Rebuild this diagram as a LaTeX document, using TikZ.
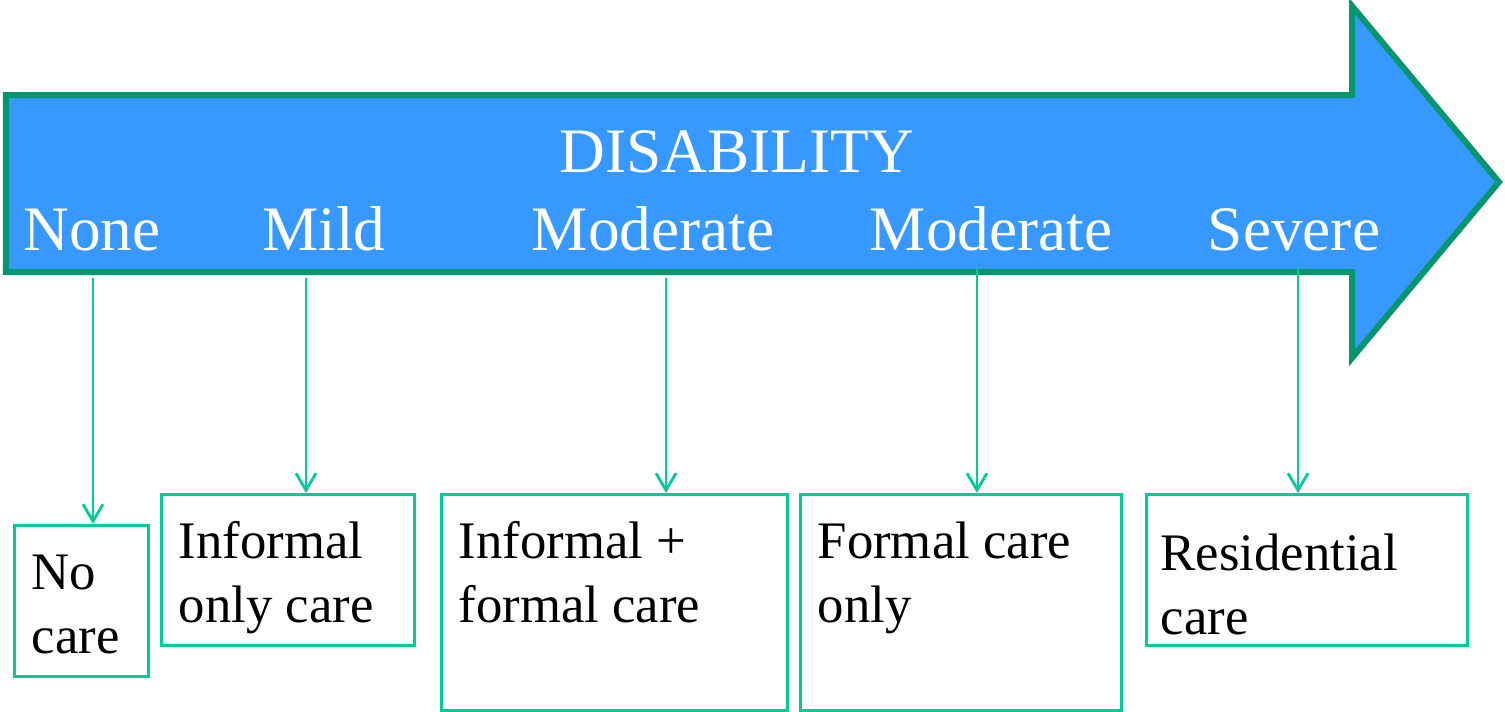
\documentclass[tikz,border=0pt]{standalone}
\usepackage{fontspec}
\setmainfont{Liberation Serif}
\usetikzlibrary{arrows.meta}

\definecolor{arrowfill}{RGB}{55,152,255}
\definecolor{arrowline}{RGB}{4,150,110}
\definecolor{careline}{RGB}{0,204,153}

\tikzset{
  level/.style={text=white, inner sep=0pt, font=\fontsize{18}{21.6}\selectfont},
  carebox/.style={draw=careline, line width=0.025cm, inner sep=0pt, anchor=north west},
  caretext/.style={inner sep=0pt, anchor=base west, align=left, font=\fontsize{15}{18}\selectfont},
  link/.style={careline, line width=0.025cm, -{Straight Barb[length=0.17cm, width=0.2cm, line width=0.028cm]}}
}

\begin{document}
\begin{tikzpicture}[x=0.01cm, y=-0.01cm]
                    \useasboundingbox (0,0) rectangle (1505,711);

                    % Drawing the disability arrow
                    \draw [line width=0.06cm, draw=arrowline, fill=arrowfill, line join=miter]
                      (6,95) -- (1352,95) -- (1352,6) -- (1499,182) -- (1352,358) -- (1352,272) -- (6,272) -- cycle;%

                    % Marking the levels on the arrow
                    \node [level, anchor=base] (title) at (737,172) {DISABILITY};%
                    \node [level, anchor=base] (none) at (92,250) {None};%
                    \node [level, anchor=base] (mild) at (324,250) {Mild};%
                    \node [level, anchor=base] (modA) at (653,250) {Moderate};%
                    \node [level, anchor=base] (modB) at (991,250) {Moderate};%
                    \node [level, anchor=base] (severe) at (1294,250) {Severe};%

                    % Drawing the care boxes
                    \node [carebox, minimum width=1.34cm, minimum height=1.51cm] (nocare) at (13,524) {};%
                    \node [carebox, minimum width=2.53cm, minimum height=1.51cm] (informal) at (160,493) {};%
                    \node [carebox, minimum width=3.46cm, minimum height=2.16cm] (mixed) at (440,493) {};%
                    \node [carebox, minimum width=3.21cm, minimum height=2.16cm] (formal) at (799,493) {};%
                    \node [carebox, minimum width=3.21cm, minimum height=1.51cm] (residential) at (1145,493) {};%

                    % Texts of the care boxes (base is the last line)
                    \node [caretext] (nocaretext) at (31,653) {No\\care};%
                    \node [caretext] (informaltext) at (178,622) {Informal\\only care};%
                    \node [caretext] (mixedtext) at (458,622) {Informal +\\formal care};%
                    \node [caretext] (formaltext) at (817,622) {Formal care\\only};%
                    \node [caretext] (residentialtext) at (1160,634) {Residential\\care};%

                    % Drawing links from levels to care
                    \coordinate (fromnone) at (93,278);%
                    \coordinate (frommild) at (306,278);%
                    \coordinate (frommodA) at (666,278);%
                    \coordinate (frommodB) at (977,268);%
                    \coordinate (fromsevere) at (1298,268);%
                    \draw [link] (fromnone) -- (fromnone |- nocare.north);%
                    \draw [link] (frommild) -- (frommild |- informal.north);%
                    \draw [link] (frommodA) -- (frommodA |- mixed.north);%
                    \draw [link] (frommodB) -- (frommodB |- formal.north);%
                    \draw [link] (fromsevere) -- (fromsevere |- residential.north);%
\end{tikzpicture}
\end{document}
